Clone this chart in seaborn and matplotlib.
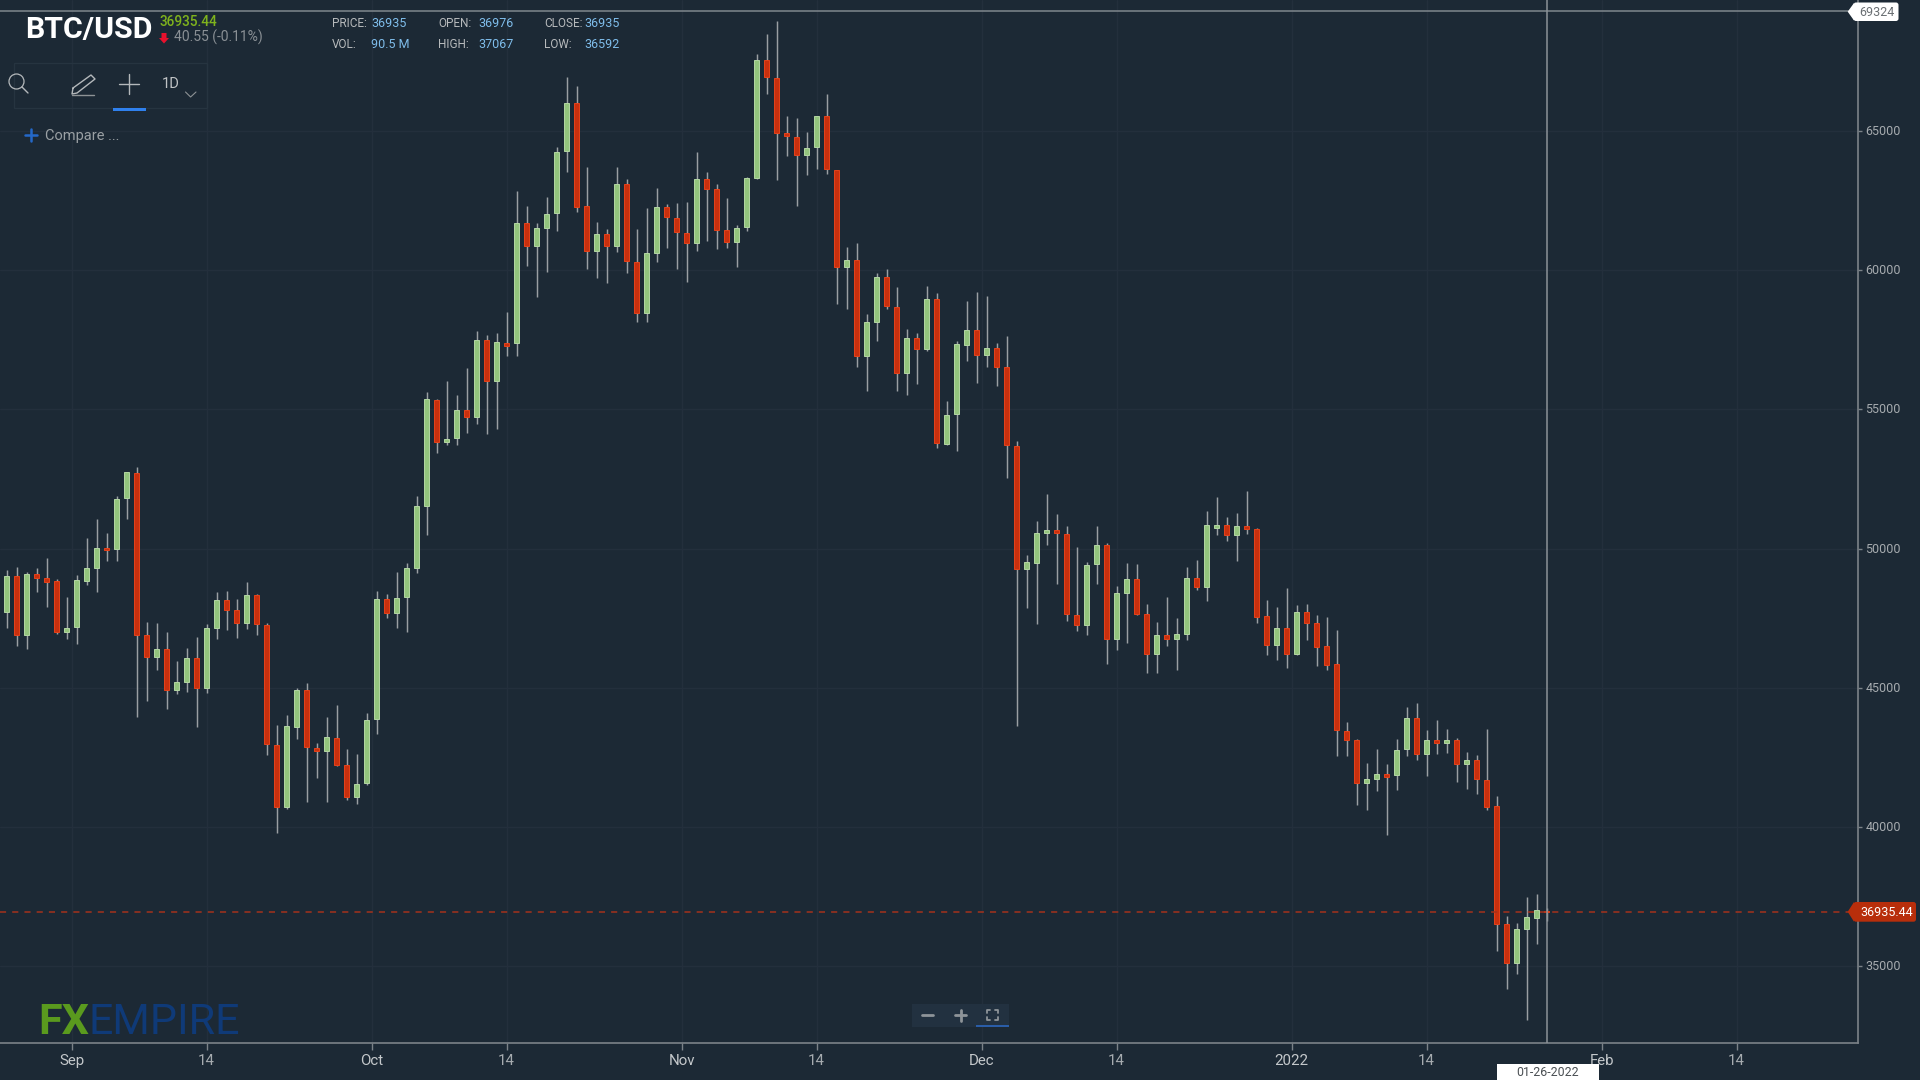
#!/usr/bin/env python3
# -*- coding: utf-8 -*-

"""BTC/USD daily candles in the FX Empire dark chart style."""

import matplotlib
matplotlib.use("Agg")
import matplotlib.pyplot as plt
from matplotlib import font_manager
from matplotlib.patches import Circle, FancyBboxPatch, Polygon, Rectangle
from matplotlib.transforms import ScaledTranslation
import pandas as pd
import seaborn as sns

first_day = "2021-08-25"

open_ = [
    47725, 48995, 46880, 49080, 48950, 48815, 46995, 47185, 48850, 49295,
    50025, 49980, 51800, 52720, 46875, 46110, 46385, 44900, 45210, 46070,
    44970, 47125, 48145, 47785, 47305, 48325, 47245, 42935, 40705, 43590,
    44910, 42840, 42730, 43195, 42205, 41075, 41555, 43870, 48180, 47675,
    48265, 49295, 51545, 55335, 53840, 53970, 54975, 54735, 57490, 56030,
    57395, 57385, 61720, 60895, 61515, 62055, 64310, 66035, 62305, 60715,
    61300, 60895, 63100, 60320, 58460, 60620, 62295, 61890, 61350, 60980,
    63280, 62920, 61445, 61025, 61575, 63325, 67555, 66920, 64945, 64810,
    64165, 64440, 65540, 63600, 60125, 60365, 56940, 58150, 59780, 58700,
    56305, 57575, 57190, 58965, 53775, 54820, 57335, 57850, 56975, 57215,
    56545, 53670, 49260, 49475, 50555, 50650, 50520, 47595, 47235, 49440,
    50125, 46745, 48395, 48900, 47645, 46205, 46875, 46745, 46925, 48950,
    48625, 50735, 50830, 50470, 50795, 50700, 47560, 46515, 47150, 46205,
    47735, 47330, 46480, 45845, 43425, 43100, 41565, 41710, 41905, 41845,
    42790, 43915, 42595, 43100, 43005, 43100, 42240, 42380, 41675, 40730,
    36500, 35095, 36320, 36715, 36976,
]
close = [
    48995, 46890, 49080, 48935, 48800, 47005, 47150, 48865, 49305, 50025,
    49930, 51775, 52735, 46890, 46110, 46385, 44900, 45185, 46070, 44970,
    47150, 48145, 47775, 47320, 48325, 47270, 42955, 40705, 43605, 44910,
    42875, 42730, 43210, 42205, 41075, 41530, 43830, 48180, 47675, 48230,
    49305, 51525, 55385, 53840, 53945, 54975, 54735, 57490, 56040, 57410,
    57300, 61720, 60895, 61530, 62030, 64270, 66035, 62285, 60715, 61300,
    60895, 63100, 60355, 58460, 60640, 62295, 61925, 61375, 60980, 63280,
    62940, 61470, 61025, 61530, 63325, 67555, 66955, 64930, 64845, 64165,
    64415, 65540, 63635, 60125, 60365, 56940, 58160, 59780, 58735, 56305,
    57575, 57190, 58975, 53790, 54795, 57360, 57850, 56975, 57225, 56530,
    53705, 49260, 49500, 50565, 50650, 50555, 47645, 47235, 49405, 50125,
    46745, 48410, 48900, 47645, 46205, 46890, 46745, 46925, 48950, 48625,
    50830, 50830, 50470, 50795, 50700, 47545, 46515, 47150, 46205, 47735,
    47320, 46465, 45830, 43460, 43100, 41565, 41725, 41905, 41795, 42755,
    43915, 42595, 43115, 43005, 43100, 42240, 42380, 41710, 40715, 36500,
    35095, 36320, 36740, 37000, 36935,
]
high = [
    49235, 49330, 49150, 49295, 49650, 48890, 48250, 49065, 50375, 51045,
    50555, 51895, 52760, 52925, 47355, 47320, 47000, 45965, 46420, 46815,
    47280, 48430, 48490, 48180, 48790, 48370, 47330, 43640, 44000, 44980,
    45160, 43005, 43950, 44360, 42790, 42610, 44085, 48480, 48360, 49165,
    49475, 51895, 55635, 55370, 56030, 55505, 56485, 57825, 57660, 57745,
    58510, 62860, 62330, 61695, 62645, 64430, 66945, 66645, 63720, 61730,
    61480, 63720, 63280, 61480, 62235, 62955, 62380, 62415, 62450, 64250,
    63540, 63100, 62595, 61615, 63350, 67770, 68500, 68970, 65555, 65470,
    64980, 65560, 66335, 63620, 60845, 60980, 58425, 59900, 60045, 59410,
    57885, 57740, 59455, 59180, 55320, 57465, 58905, 59215, 59085, 57380,
    57645, 53870, 49750, 51000, 51945, 51235, 50815, 50065, 49510, 50815,
    50195, 48660, 49475, 49430, 48000, 47365, 48265, 47500, 49330, 49570,
    51355, 51850, 51140, 51275, 52085, 50735, 48135, 47905, 48575, 47955,
    48000, 47595, 47545, 47055, 43760, 43150, 42285, 42790, 42250, 43150,
    44310, 44440, 43460, 43820, 43510, 43195, 42695, 42560, 43510, 41110,
    36800, 36535, 37470, 37575, 37067,
]
low = [
    47160, 46480, 46400, 48420, 47880, 46925, 46745, 46575, 48685, 48420,
    49535, 49535, 51070, 43930, 44505, 45615, 44225, 44765, 44825, 43570,
    44815, 46745, 47055, 46790, 47100, 46875, 42560, 39770, 40635, 43150,
    40875, 41760, 40875, 42165, 40945, 40815, 41485, 43330, 47510, 47150,
    46985, 49125, 50470, 53450, 53720, 53705, 54160, 54460, 54115, 54295,
    56905, 56905, 60175, 59060, 59960, 61435, 63555, 62115, 60045, 59730,
    59550, 60680, 59910, 58160, 58160, 60320, 60810, 60045, 59600, 60715,
    61075, 60760, 60810, 60140, 61435, 63290, 66335, 63240, 64130, 62330,
    63420, 63635, 63455, 58785, 58605, 56545, 55680, 57480, 58605, 55680,
    55515, 55910, 57085, 53610, 53705, 53490, 56760, 55945, 56530, 55860,
    52540, 43605, 47870, 47295, 50110, 48720, 47380, 47020, 46875, 48720,
    45845, 46335, 46610, 47595, 45535, 45535, 46480, 45630, 46695, 48495,
    48100, 50470, 50255, 49535, 50520, 47330, 46155, 45975, 45715, 46170,
    46695, 45760, 45615, 42525, 42525, 40765, 40595, 41270, 39685, 41305,
    42525, 42380, 41805, 42610, 42655, 41615, 41350, 41170, 40585, 35515,
    34165, 34700, 33035, 35780, 36592,
]

price_ticks = [35000, 40000, 45000, 50000, 55000, 60000, 65000]
date_ticks = [
    "2021-08-31 12:00", "2021-09-14 00:00", "2021-09-30 12:00", "2021-10-14 00:00",
    "2021-10-31 12:00", "2021-11-14 00:00", "2021-11-30 12:00", "2021-12-14 00:00",
    "2021-12-31 12:00", "2022-01-14 00:00", "2022-01-31 12:00", "2022-02-14 00:00",
]
date_tick_labels = ["Sep", "14", "Oct", "14", "Nov", "14", "Dec", "14", "2022", "14", "Feb", "14"]

last_price = 36935.44
crosshair_price = 69324
crosshair_day = "2022-01-26"

BG = "#1c2935"
GRID = "#232f3c"
AXIS = "#7b8288"
TICK_TEXT = "#a6abaf"
GREEN = "#93c47d"
GREEN_EDGE = "#b3d6a3"
RED = "#c9300e"
RED_EDGE = "#e6421a"
WICK = "#9a9fa3"

sns.set_theme(style="dark", rc={"axes.facecolor": BG, "figure.facecolor": BG})
plt.rcParams["font.family"] = ["Roboto", "DejaVu Sans"]

installed = {f.name for f in font_manager.fontManager.ttflist}
narrow = "Liberation Sans Narrow" if "Liberation Sans Narrow" in installed else "Roboto"

dates = pd.date_range(first_day, periods=len(close), freq="D")
candles = pd.DataFrame({"date": dates, "open": open_, "high": high, "low": low, "close": close})
candles["bottom"] = candles[["open", "close"]].min(axis=1)
candles["height"] = (candles["close"] - candles["open"]).abs()
rising = candles["close"] >= candles["open"]

fig = plt.figure(figsize=(19.2, 10.8), dpi=100)
ax = fig.add_axes([0, (1080 - 1042.7) / 1080, 1857.67 / 1920, 1042.7 / 1080])

# wicks first, bodies on top
wicks = candles.melt(id_vars="date", value_vars=["high", "low"], value_name="price")
sns.lineplot(
    data=wicks, x="date", y="price", units="date", estimator=None,
    color=WICK, lw=1.05, solid_capstyle="butt", legend=False, ax=ax, zorder=3,
)
for mask, fill, edge in [(rising, GREEN, GREEN_EDGE), (~rising, RED, RED_EDGE)]:
    part = candles[mask]
    ax.bar(part["date"], part["height"], bottom=part["bottom"], width=0.5,
           color=fill, edgecolor=edge, linewidth=0.7, zorder=4)

start = pd.Timestamp(first_day)
ax.set_xlim(start - pd.Timedelta(days=0.667), start + pd.Timedelta(days=185.1))
ax.set_ylim(32232, 69723)
ax.set_xlabel("")
ax.set_ylabel("")

ax.yaxis.tick_right()
ax.set_yticks(price_ticks)
ax.set_yticklabels([str(p) for p in price_ticks])
ax.set_xticks(pd.to_datetime(date_ticks))
ax.set_xticklabels(date_tick_labels)
ax.tick_params(axis="y", length=3, width=1, color=AXIS, labelcolor=TICK_TEXT, labelsize=9, pad=2.5, right=True)
ax.tick_params(axis="x", length=5, width=1, color=AXIS, labelcolor="#c4c8cb", labelsize=10.8, pad=3.2, bottom=True)
for label_ in ax.get_xticklabels():
    if label_.get_text() == "14":
        label_.set_color("#a6abaf")
# price labels sit a pixel above their grid lines
nudge = ScaledTranslation(0, 1 / 100, fig.dpi_scale_trans)
for label_ in ax.get_yticklabels():
    label_.set_transform(label_.get_transform() + nudge)

ax.grid(True, color=GRID, lw=1)
ax.set_axisbelow(True)
for side in ["top", "left"]:
    ax.spines[side].set_visible(False)
for side in ["right", "bottom"]:
    ax.spines[side].set_visible(True)
    ax.spines[side].set_color(AXIS)
    ax.spines[side].set_linewidth(1.2)

# crosshair and last price
ax.axhline(crosshair_price, color="#7f878d", lw=1.1, zorder=5)
ax.axvline(pd.Timestamp(crosshair_day), color="#8b9298", lw=1.1, zorder=5)
ax.axhline(last_price, color="#a5321c", lw=1.1, ls=(0, (4, 4)), zorder=5)

# screen furniture, laid out in pixels of the picture
ui = fig.add_axes([0, 0, 1, 1], zorder=5)
ui.set_xlim(0, 1920)
ui.set_ylim(1080, 0)
ui.axis("off")


def label(x, y, text, color, size, family="Roboto", **kw):
    kw.setdefault("ha", "left")
    kw.setdefault("va", "center")
    ui.text(x, y, text, color=color, fontsize=size, family=family, **kw)


label(25, 30, "BTC/USD", "white", 21.8, family=narrow, fontweight="bold")
label(160, 22, "36935.44", "#7fb31d", 9.8, fontweight="medium")
ui.add_patch(Polygon([[161.5, 33], [166.5, 33], [166.5, 38], [169, 38], [164, 43.5], [159, 38], [161.5, 38]],
                     closed=True, color="#e8112d", lw=0))
label(174, 37, "40.55 (-0.11%)", "#8a9095", 10)

for x_key, x_val, key1, val1, key2, val2 in [
    (332, 371, "PRICE:", "36935", "VOL:", "90.5 M"),
    (438, 478, "OPEN:", "36976", "HIGH:", "37067"),
    (544, 584, "CLOSE:", "36935", "LOW:", "36592"),
]:
    label(x_key, 23.7, key1, "#b7babc", 8.5, family=narrow)
    label(x_val, 23.7, val1, "#7fbdeb", 9, family=narrow)
    label(x_key, 44.3, key2, "#b7babc", 8.5, family=narrow)
    label(x_val, 44.3, val2, "#7fbdeb", 9, family=narrow)

# toolbar
ui.add_patch(Rectangle((13.5, 63), 193.5, 44.7, fill=False, ec="#263440", lw=0.9))
ui.add_patch(Circle((16.5, 81.5), 7.5, fill=False, ec="#b4b8bb", lw=0.9))
ui.plot([22, 28], [87, 93], color="#b4b8bb", lw=1.0)
ui.plot([73, 91, 95, 77, 72, 73], [88, 75, 79, 93, 94, 88], color="#b4b8bb", lw=1.0)
ui.plot([72, 94], [95, 95], color="#8d9295", lw=1.0)
ui.plot([119, 139], [84, 84], color="#b4b8bb", lw=1.0)
ui.plot([129, 129], [74, 94], color="#b4b8bb", lw=1.0)
ui.add_patch(Rectangle((113, 108), 33, 3, color="#2f80ed", lw=0))
label(170.5, 84, "1D", "#c0c3c5", 10.5, ha="center")
ui.plot([185.5, 190.6, 196], [92, 97, 92], color="#8d9295", lw=0.8)
ui.plot([25, 37], [135, 135], color="#2468c8", lw=1.8)
ui.plot([31, 31], [129, 141], color="#2468c8", lw=1.8)
label(45, 136, "Compare ...", "#9aa0a4", 10.5)

# logo
label(38, 1022, "FX", "#5a9a1e", 31, fontweight="bold")
label(88, 1022, "EMPIRE", "#0f3a78", 31)

# zoom controls
ui.add_patch(Rectangle((912, 1004), 97, 23, color="#223140", lw=0))
ui.plot([922, 933], [1015, 1015], color="#8e9499", lw=2)
ui.plot([955, 966], [1015, 1015], color="#8e9499", lw=2)
ui.plot([960.5, 960.5], [1009.5, 1020.5], color="#8e9499", lw=2)
for cx, cy, dx, dy in [(987, 1010, 1, 1), (998, 1010, -1, 1), (987, 1020, 1, -1), (998, 1020, -1, -1)]:
    ui.plot([cx + 3 * dx, cx, cx], [cy, cy, cy + 3 * dy], color="#8e9499", lw=1.3)
ui.add_patch(Rectangle((976, 1025), 33, 2, color="#2a5da8", lw=0))

# price and date tags
ui.add_patch(FancyBboxPatch((1853.5, 2.5), 45, 18.5, boxstyle="round,pad=0,rounding_size=2.5", fc="white", ec="none"))
ui.add_patch(Polygon([[1847.7, 11.7], [1854, 3], [1854, 20.5]], closed=True, color="white", lw=0))
label(1877, 12, "69324", "#6a6f73", 9, ha="center")

ui.add_patch(FancyBboxPatch((1853.5, 902), 62.5, 19.7, boxstyle="round,pad=0,rounding_size=2.5", fc="#b82e0b", ec="none"))
ui.add_patch(Polygon([[1847.7, 911.8], [1854, 902], [1854, 921.7]], closed=True, color="#b82e0b", lw=0))
label(1886.7, 912, "36935.44", "white", 9, ha="center")

ui.add_patch(Rectangle((1497, 1064), 102, 16, color="white", lw=0))
label(1548, 1072, "01-26-2022", "#4a4f53", 8.9, ha="center")

fig.savefig("out.png", dpi=100, facecolor=BG)
